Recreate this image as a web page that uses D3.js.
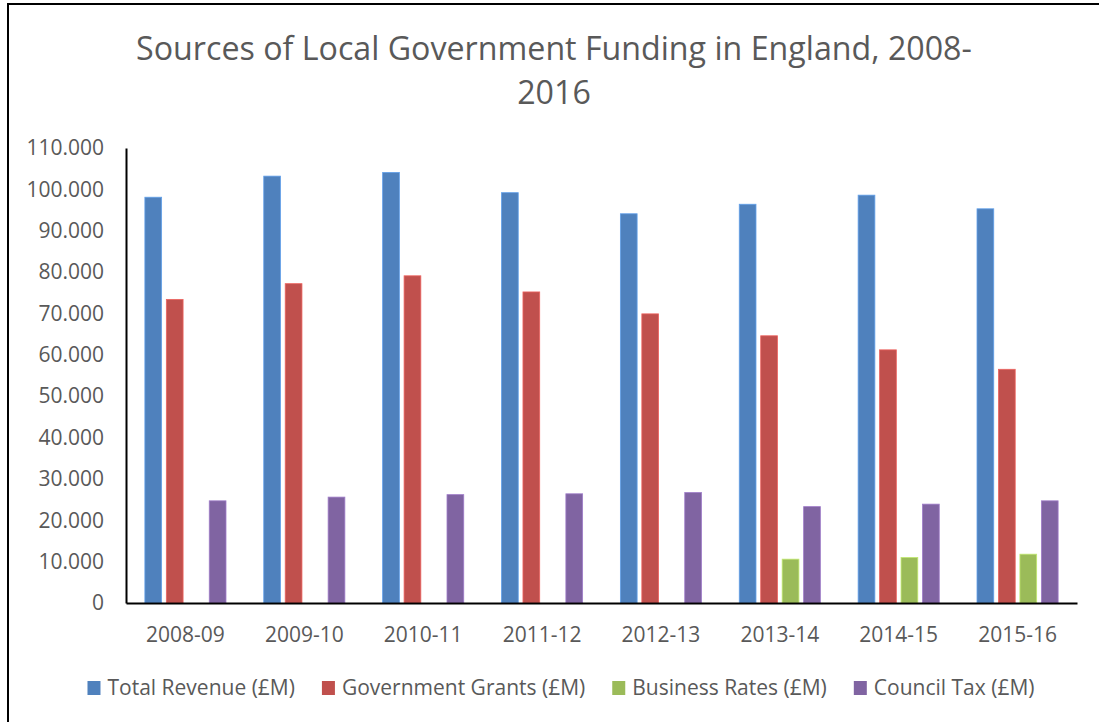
<!DOCTYPE html>
<html>
<head>
<meta charset="utf-8">
<script src="https://cdn.jsdelivr.net/npm/d3@7"></script>
<style>
  html, body { margin: 0; padding: 0; background: #fff; }
  svg { display: block; font-family: "Open Sans", sans-serif; }
</style>
</head>
<body>
<svg id="chart" width="1099" height="722"></svg>
<script>
// Data (values in £M)
const years = ['2008-09', '2009-10', '2010-11', '2011-12', '2012-13', '2013-14', '2014-15', '2015-16'];
const seriesNames = ['Total Revenue (£M)', 'Government Grants (£M)', 'Business Rates (£M)', 'Council Tax (£M)'];
const totalRevenue     = [98100, 103200, 104100, 99200, 94100, 96400, 98600, 95300];
const governmentGrants = [73400, 77200, 79100, 75200, 69900, 64600, 61200, 56500];
const businessRates    = [null, null, null, null, null, 10600, 11000, 11800];
const councilTax       = [24700, 25600, 26200, 26400, 26700, 23300, 23900, 24700];
const yTicks = [0, 10000, 20000, 30000, 40000, 50000, 60000, 70000, 80000, 90000, 100000, 110000];
const colors = ['#4F81BD', '#C0504D', '#9BBB59', '#8064A2'];

const seriesValues = [totalRevenue, governmentGrants, businessRates, councilTax];
const TEXT = '#595959';

const svg = d3.select('#chart');

// outer chart border (right/bottom edges fall outside the picture)
svg.append('rect')
  .attr('x', 8).attr('y', 4)
  .attr('width', 1200).attr('height', 800)
  .attr('fill', 'none')
  .attr('stroke', '#000')
  .attr('stroke-width', 2);

const plot = { left: 126, right: 1077, top: 148, bottom: 603 };

const x0 = d3.scaleBand().domain(years).range([plot.left, plot.right]);
const x1 = d3.scaleBand().domain(seriesNames)
  .range([0, x0.bandwidth()])
  .paddingInner(0.22)
  .paddingOuter(0.88);
const y = d3.scaleLinear().domain([0, 110000]).range([plot.bottom, plot.top]);

const fmt = d3.formatLocale({ decimal: ',', thousands: '.', grouping: [3], currency: ['£', ''] }).format(',');

// Title, fitted to the reference width
const titleLines = ['Sources of Local Government Funding in England, 2008-', '2016'];
const title = svg.append('text')
  .attr('text-anchor', 'middle')
  .attr('fill', TEXT)
  .attr('font-size', 33);
titleLines.forEach((t, i) => {
  title.append('tspan')
    .attr('x', 554)
    .attr('y', 60 + i * 44)
    .text(t);
});
const firstLen = title.select('tspan').node().getComputedTextLength();
title.attr('font-size', 33 * 836 / firstLen);

// Bars
const groups = svg.append('g')
  .selectAll('g')
  .data(years)
  .join('g')
  .attr('transform', d => `translate(${x0(d)},0)`);

groups.selectAll('rect')
  .data((d, i) => seriesNames.map((s, j) => ({ series: s, idx: j, value: seriesValues[j][i] })).filter(v => v.value != null))
  .join('rect')
  .attr('x', d => x1(d.series))
  .attr('y', d => y(d.value))
  .attr('width', x1.bandwidth())
  .attr('height', d => y(0) - y(d.value))
  .attr('fill', d => colors[d.idx])
  .attr('stroke', d => d3.color(colors[d.idx]).brighter(0.6))
  .attr('stroke-width', 0.8);

// Y axis
const yAxis = svg.append('g')
  .attr('transform', `translate(${plot.left},0)`)
  .call(d3.axisLeft(y).tickValues(yTicks).tickFormat(fmt).tickSize(0).tickPadding(22));
yAxis.select('.domain').attr('stroke', '#000').attr('stroke-width', 2);
yAxis.selectAll('text')
  .attr('font-size', 21)
  .attr('font-family', '"Open Sans", sans-serif')
  .attr('fill', TEXT);

// X axis
const xAxis = svg.append('g')
  .attr('transform', `translate(0,${plot.bottom})`)
  .call(d3.axisBottom(x0).tickSize(0).tickPadding(24));
xAxis.select('.domain').attr('stroke', '#000').attr('stroke-width', 2);
xAxis.selectAll('text')
  .attr('font-size', 21)
  .attr('font-family', '"Open Sans", sans-serif')
  .attr('fill', TEXT);

// Legend
const legend = svg.append('g');
const items = legend.selectAll('g')
  .data(seriesNames)
  .join('g');
items.append('rect')
  .attr('width', 13).attr('height', 14)
  .attr('y', 681)
  .attr('fill', (d, i) => colors[i]);
items.append('text')
  .attr('x', 20)
  .attr('y', 695)
  .attr('font-size', 21)
  .attr('fill', TEXT)
  .text(d => d);

let cursor = 0;
const gap = 27;
items.each(function () {
  const w = d3.select(this).select('text').node().getComputedTextLength() + 20;
  d3.select(this).attr('data-w', w).attr('transform', `translate(${cursor},0)`);
  cursor += w + gap;
});
const totalW = cursor - gap;
legend.attr('transform', `translate(${561 - totalW / 2},0)`);
</script>
</body>
</html>
